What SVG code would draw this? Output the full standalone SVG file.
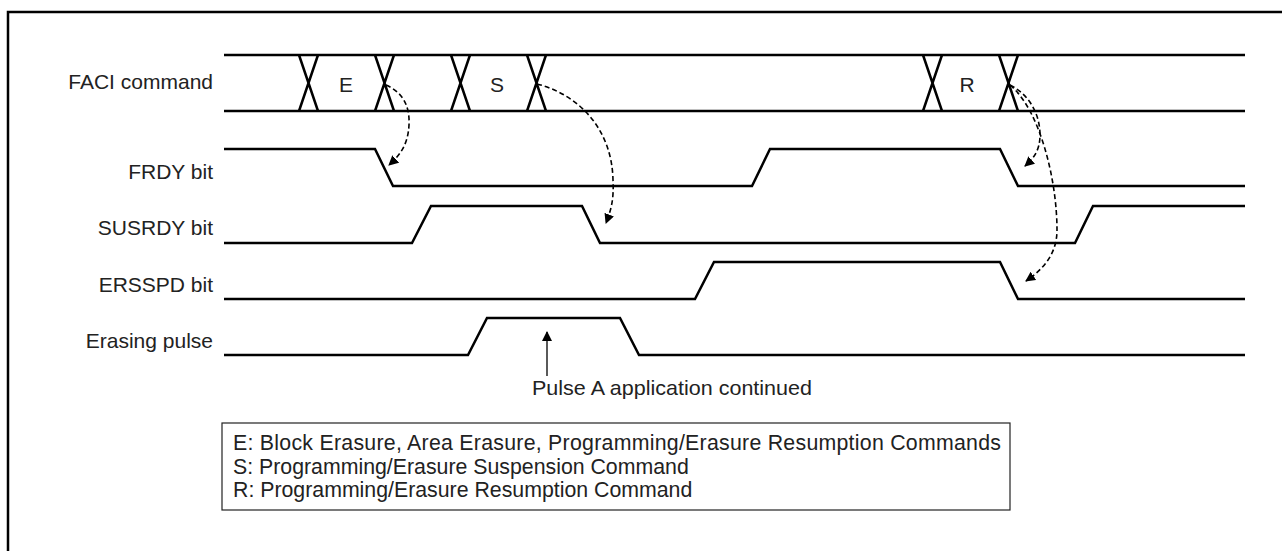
<svg xmlns="http://www.w3.org/2000/svg" width="1282" height="551" viewBox="0 0 1282 551">
  <style>
    .sig { fill: none; stroke: #000; stroke-width: 2.5; stroke-linejoin: miter; }
    .lbl { font-family: "Liberation Sans", Arial, sans-serif; font-size: 21px; fill: #222; }
    .leg { font-family: "Liberation Sans", Arial, sans-serif; font-size: 21.3px; fill: #222; }
    .end { text-anchor: end; }
    .mid { text-anchor: middle; }
    .dash { fill: none; stroke: #000; stroke-width: 1.6; stroke-dasharray: 5 3; }
  </style>
  <defs>
    <marker id="ah" viewBox="0 0 10 10" refX="9" refY="5" markerWidth="10" markerHeight="10" markerUnits="userSpaceOnUse" orient="auto">
      <path d="M0,0 L10,5 L0,10 Z" fill="#000"/>
    </marker>
  </defs>
  <rect x="8" y="12" width="1300" height="560" fill="#fff" stroke="#000" stroke-width="2.5"/>

  <g id="faci">
    <text class="lbl end" x="213" y="89">FACI command</text>
    <path class="sig" d="M224,55 H1245 M224,111 H1245"/>
    <path class="sig" d="M299,55 L318,111 M318,55 L299,111"/>
    <path class="sig" d="M375,55 L394,111 M394,55 L375,111"/>
    <path class="sig" d="M451,55 L470,111 M470,55 L451,111"/>
    <path class="sig" d="M527,55 L546,111 M546,55 L527,111"/>
    <path class="sig" d="M923,55 L942,111 M942,55 L923,111"/>
    <path class="sig" d="M999,55 L1018,111 M1018,55 L999,111"/>
    <text class="lbl mid" x="346" y="92">E</text>
    <text class="lbl mid" x="497" y="92">S</text>
    <text class="lbl mid" x="967" y="92">R</text>
  </g>

  <g id="frdy">
    <text class="lbl end" x="213" y="179">FRDY bit</text>
    <path class="sig" d="M224,149 H375 L393,186 H752 L770,149 H1000 L1018,186 H1245"/>
  </g>

  <g id="susrdy">
    <text class="lbl end" x="213" y="235">SUSRDY bit</text>
    <path class="sig" d="M224,243 H412 L431,206 H582 L600,243 H1075 L1093,206 H1245"/>
  </g>

  <g id="ersspd">
    <text class="lbl end" x="213" y="292">ERSSPD bit</text>
    <path class="sig" d="M224,299 H695 L714,262 H1000 L1018,299 H1245"/>
  </g>

  <g id="erasing-pulse">
    <text class="lbl end" x="213" y="348">Erasing pulse</text>
    <path class="sig" d="M224,355 H468 L487,318 H620 L639,355 H1245"/>
  </g>

  <g id="pulse-note">
    <line x1="547" y1="376" x2="547" y2="332" stroke="#000" stroke-width="1.3" marker-end="url(#ah)"/>
    <text class="lbl" x="532" y="395" textLength="280" lengthAdjust="spacingAndGlyphs">Pulse A application continued</text>
  </g>

  <g id="legend">
    <rect x="222" y="423" width="788" height="87" fill="#fff" stroke="#222" stroke-width="1.2"/>
    <text class="leg" x="233" y="450" textLength="768" lengthAdjust="spacing">E: Block Erasure, Area Erasure, Programming/Erasure Resumption Commands</text>
    <text class="leg" x="233" y="474">S: Programming/Erasure Suspension Command</text>
    <text class="leg" x="233" y="497">R: Programming/Erasure Resumption Command</text>
  </g>

  <g id="connectors">
    <path class="dash" marker-end="url(#ah)" d="M386,85 C402,92 410,105 409,125 C408,145 400,155 389,165"/>
    <path class="dash" marker-end="url(#ah)" d="M537,84 C580,95 612,130 613,180 C614,200 611,210 606,223"/>
    <path class="dash" marker-end="url(#ah)" d="M1010,85 C1030,95 1040,115 1040,135 C1040,150 1034,158 1025,166"/>
    <path class="dash" marker-end="url(#ah)" d="M1010,85 C1040,110 1057,180 1057,230 C1057,255 1042,270 1026,281"/>
  </g>
</svg>
